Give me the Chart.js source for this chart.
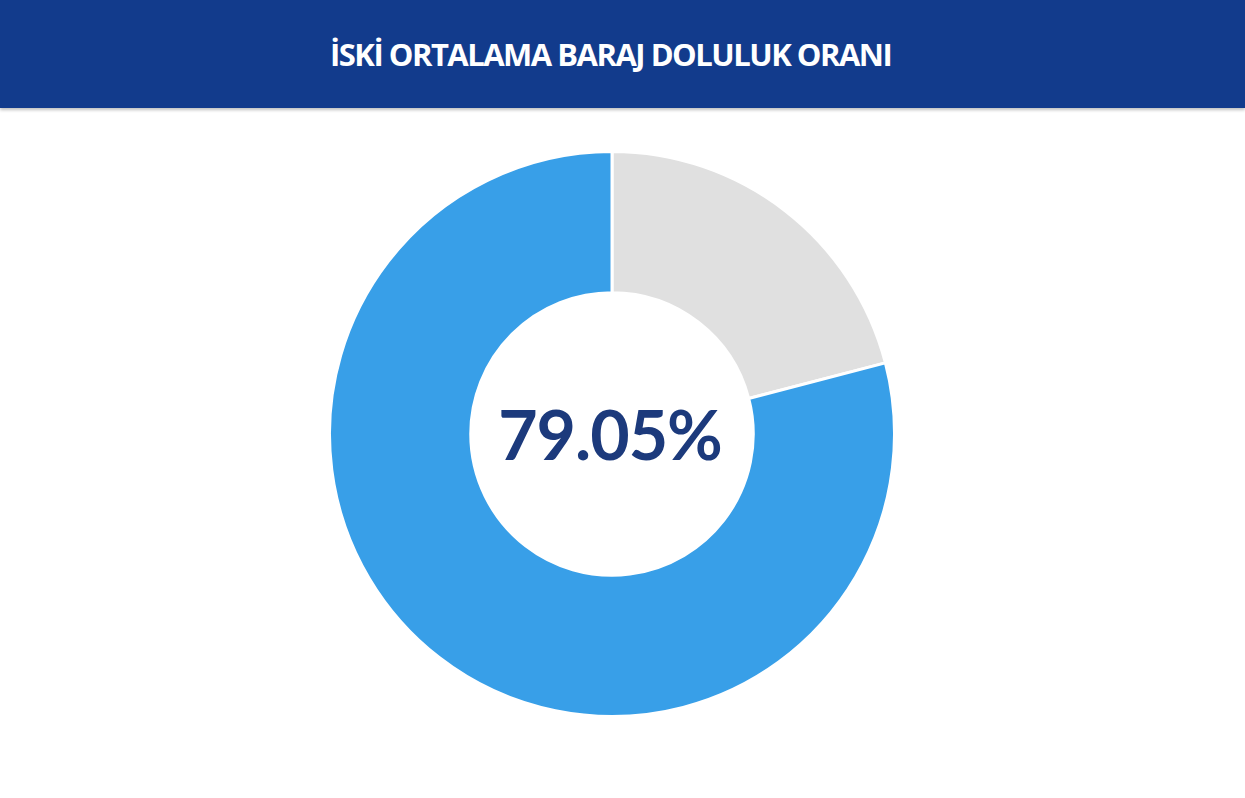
<!DOCTYPE html>
<html lang="tr">
<head>
<meta charset="utf-8">
<title>İSKİ Ortalama Baraj Doluluk Oranı</title>
<script src="https://cdn.jsdelivr.net/npm/chart.js@4.4.1/dist/chart.umd.min.js"></script>
<style>
  html, body { margin: 0; padding: 0; background: #fff; }
  body { width: 1245px; height: 798px; position: relative; overflow: hidden; }
  #header {
    position: absolute; left: 0; top: 0; width: 1245px; height: 108px;
    background: #123b8c; box-shadow: 0 2px 3px rgba(0,0,0,0.25);
  }
  #title {
    position: absolute; left: 330px; top: 33px; margin: 0;
    font-family: "Open Sans", sans-serif; font-weight: 700; font-size: 31px;
    color: #fff; letter-spacing: -1.5px; white-space: nowrap;
  }
  #wrap { position: absolute; left: 328px; top: 150px; width: 568px; height: 568px; }
  #center {
    position: absolute; left: 610px; top: 433px; transform: translate(-50%, -50%);
    font-family: Lato, sans-serif; font-weight: 700; font-size: 68px;
    color: #1c3a7c; white-space: nowrap; letter-spacing: -1px;
  }
</style>
</head>
<body>
<div id="header"><h1 id="title">İSKİ ORTALAMA BARAJ DOLULUK ORANI</h1></div>
<div id="wrap"><canvas id="chart" width="568" height="568"></canvas></div>
<div id="center"></div>
<script>
// Doluluk (dolu) ve boş kısım, yüzde
var labels = ["Boş", "Dolu"];
var values = [20.95, 79.05];
var colors = ["#e0e0e0", "#389fe8"];

document.getElementById("center").textContent = values[1].toFixed(2) + "%";

new Chart(document.getElementById("chart"), {
    type: "doughnut",
    data: {
        labels: labels,
        datasets: [{
            data: values,
            backgroundColor: colors,
            borderColor: "#ffffff",
            borderWidth: 3
        }]
    },
    options: {
        responsive: false,
        animation: false,
        cutout: "50%",
        layout: { padding: 0 },
        plugins: {
            legend: { display: false },
            tooltip: { enabled: false }
        }
    }
});
</script>
</body>
</html>
